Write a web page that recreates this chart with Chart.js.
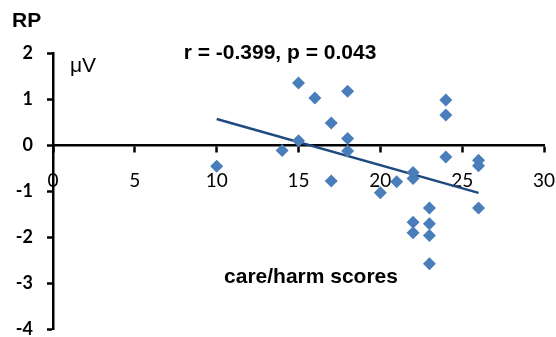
<!DOCTYPE html>
<html>
<head>
<meta charset="utf-8">
<script src="https://cdn.jsdelivr.net/npm/chart.js@4/dist/chart.umd.min.js"></script>
<style>
html,body{margin:0;padding:0;background:#fff;}
#wrap{width:556px;height:337px;position:relative;}
</style>
</head>
<body>
<div id="wrap"><canvas id="c" width="556" height="337"></canvas></div>
<script>
// Data
const careHarm = [10, 14, 15, 15, 16, 17, 17, 18, 18, 18, 20, 21, 22, 22, 22, 22, 23, 23, 23, 23, 24, 24, 24, 26, 26, 26];
const rpValues = [-0.46, -0.12, 1.35, 0.09, 1.02, 0.48, -0.78, 1.17, 0.14, -0.13, -1.04, -0.80, -0.60, -0.73, -1.68, -1.91, -1.37, -1.71, -1.97, -2.58, 0.98, 0.65, -0.26, -0.33, -0.45, -1.37];
const trendX = [10, 26];
const trendY = [0.565, -1.04];
const xTicks = [0, 5, 10, 15, 20, 25, 30];
const yTicks = [-4, -3, -2, -1, 0, 1, 2];
const titleText = 'r = -0.399, p = 0.043';
const xAxisLabel = 'care/harm scores';
const yAxisLabel = 'RP';
const unitLabel = 'μV';

const points = careHarm.map((x, i) => ({x: x, y: rpValues[i]}));
const trend = trendX.map((x, i) => ({x: x, y: trendY[i]}));

const textPlugin = {
  id: 'texts',
  afterDraw(chart) {
    const ctx = chart.ctx;
    ctx.save();
    ctx.fillStyle = '#000';
    ctx.textBaseline = 'middle';
    ctx.textAlign = 'left';
    ctx.font = 'bold 21px "Liberation Sans", Arial, sans-serif';
    ctx.fillText(yAxisLabel, 12, 21);
    ctx.font = '21px "Liberation Sans", Arial, sans-serif';
    ctx.fillText(unitLabel, 70, 66);
    ctx.textAlign = 'center';
    ctx.font = 'bold 21px "Liberation Sans", Arial, sans-serif';
    ctx.fillText(titleText, 280, 53);
    ctx.fillText(xAxisLabel, 311, 277);
    ctx.restore();
  }
};

new Chart(document.getElementById('c'), {
  type: 'scatter',
  data: {
    datasets: [
      {
        label: 'RP',
        data: points,
        pointStyle: 'rectRot',
        pointRadius: 6.5,
        pointHoverRadius: 6.5,
        backgroundColor: '#4A7EBB',
        borderColor: '#4A7EBB',
        borderWidth: 0,
        showLine: false,
        order: 1
      },
      {
        label: 'trend',
        type: 'line',
        data: trend,
        borderColor: '#1F4A80',
        borderWidth: 2.5,
        pointRadius: 0,
        fill: false,
        order: 2
      }
    ]
  },
  options: {
    responsive: false,
    animation: false,
    layout: {padding: {left: 0, top: 53, right: 12, bottom: 8}},
    plugins: {
      legend: {display: false},
      tooltip: {enabled: false},
      title: {display: false}
    },
    scales: {
      x: {
        type: 'linear',
        position: {y: 0},
        min: 0, max: 30,
        afterBuildTicks(axis) { axis.ticks = xTicks.map(v => ({value: v})); },
        afterFit(axis) { axis.height = 0; axis.paddingLeft = 0; axis.paddingRight = 0; axis.paddingTop = 0; axis.paddingBottom = 0; },
        grid: {display: true, drawOnChartArea: false, drawTicks: true, tickLength: 6, tickWidth: 2.5, tickColor: '#000'},
        border: {display: true, color: '#000', width: 2.5},
        ticks: {color: '#000', padding: 18, maxRotation: 0, autoSkip: false,
          font: {family: 'Lato, "Liberation Sans", sans-serif', size: 19}}
      },
      y: {
        type: 'linear',
        position: 'left',
        min: -4, max: 2,
        afterBuildTicks(axis) { axis.ticks = yTicks.map(v => ({value: v})); },
        afterFit(axis) { axis.width = 53; axis.paddingTop = 0; axis.paddingBottom = 0; },
        grid: {display: true, drawOnChartArea: false, drawTicks: true, tickLength: 6, tickWidth: 2.5, tickColor: '#000'},
        border: {display: true, color: '#000', width: 2.5},
        ticks: {color: '#000', padding: 14, autoSkip: false,
          font: {family: 'Lato, "Liberation Sans", sans-serif', size: 18, weight: 'bold'}}
      }
    }
  },
  plugins: [textPlugin]
});
</script>
</body>
</html>
